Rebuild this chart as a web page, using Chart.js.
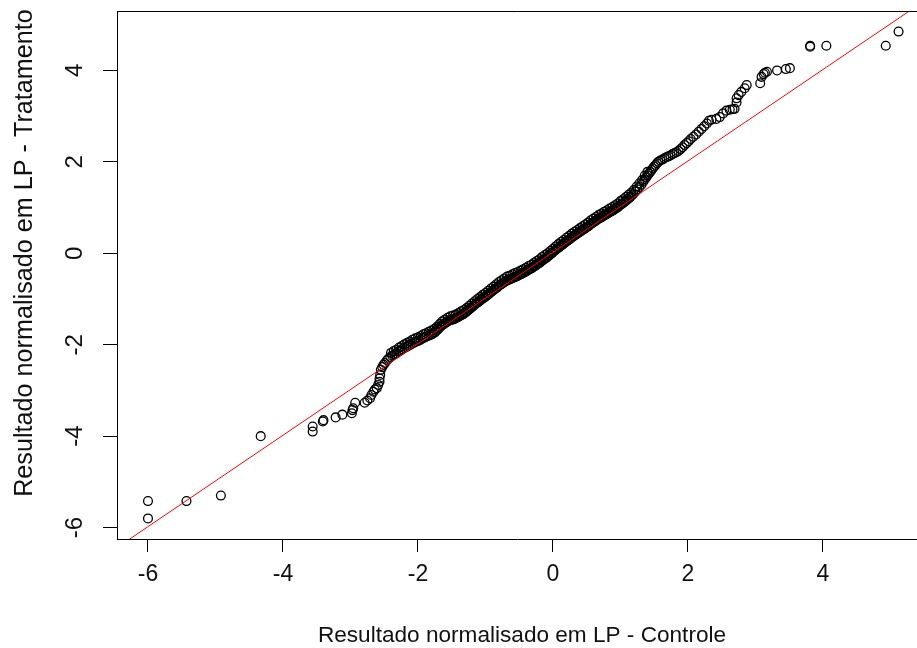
<!DOCTYPE html>
<html>
<head>
<meta charset="utf-8">
<script src="https://cdn.jsdelivr.net/npm/chart.js@4/dist/chart.umd.min.js"></script>
<style>
html,body{margin:0;padding:0;background:#fff;}
canvas{display:block;}
</style>
</head>
<body>
<canvas id="c" width="917" height="648" style="width:917px;height:648px"></canvas>
<script>
// Sample quantiles (QQ plot): x = Controle, y = Tratamento
const controle = [
-6.00,-6.00,-5.43,-4.92,-4.33,-3.56,-3.56,-3.41,-3.40,-3.22,-3.12,-2.98,-2.97,-2.96,-2.93,-2.79,-2.75,-2.71,-2.69,-2.66,-2.64,-2.61,-2.59,-2.57,-2.57,-2.56,
-2.55,-2.53,-2.51,-2.49,-2.46,-2.44,-2.41,-2.38,-2.35,-2.32,-2.29,-2.26,-2.23,-2.20,-2.17,-2.14,-2.11,-2.08,-2.05,-2.02,-1.99,-1.96,-1.93,-1.90,-1.87,-1.84,-1.81,
-1.79,-1.77,-1.75,-1.73,-1.71,-1.69,-1.67,-1.65,-1.63,-1.61,-1.59,-1.57,-1.55,-1.53,-1.51,-1.49,-1.47,-1.45,-1.43,-1.41,-1.39,-1.37,-1.35,-1.33,-1.31,-1.29,-1.27,-1.25,-1.23,-1.21,-1.19,-1.17,-1.15,-1.13,-1.11,-1.09,-1.07,-1.05,-1.03,-1.01,
-0.99,-0.97,-0.95,-0.93,-0.91,-0.89,-0.87,-0.85,-0.83,-0.81,-0.79,-0.77,-0.75,-0.73,-0.71,-0.69,-0.67,-0.65,-0.63,-0.61,-0.59,-0.57,-0.55,-0.53,-0.51,-0.49,-0.47,-0.45,-0.43,-0.41,-0.39,-0.37,-0.35,-0.33,-0.31,-0.29,-0.27,-0.25,-0.23,-0.21,-0.19,-0.17,-0.15,-0.13,-0.11,-0.09,-0.07,-0.05,-0.03,-0.01,
0.01,0.03,0.05,0.07,0.09,0.11,0.13,0.15,0.17,0.19,0.21,0.23,0.25,0.27,0.29,0.31,0.33,0.35,0.37,0.39,0.41,0.43,0.45,0.47,0.49,0.51,0.53,0.55,0.57,0.59,0.61,0.63,0.65,0.67,0.69,0.71,0.73,0.75,0.77,0.79,0.81,0.83,0.85,0.87,0.89,0.91,0.93,0.95,0.97,0.99,
1.01,1.03,1.05,1.07,1.09,1.11,1.13,1.15,1.17,1.19,
1.22,1.25,1.28,1.31,1.34,1.36,1.38,1.40,1.42,1.44,1.46,1.48,1.50,1.52,1.54,1.56,1.59,1.62,1.65,1.68,1.71,1.74,1.77,1.80,1.83,1.86,1.89,1.92,1.95,1.98,2.01,2.04,2.08,2.12,2.16,2.20,2.24,2.28,
2.31,2.35,2.42,2.47,2.52,2.57,2.62,2.66,2.69,2.72,2.72,2.75,2.79,2.84,2.87,3.07,3.09,3.12,3.14,3.17,3.32,3.45,3.51,3.81,3.81,4.05,4.93,5.12,
// upper edge of the dense central band
-2.40,-2.36,-2.32,-2.28,-2.24,-2.20,-2.16,-2.12,-2.08,-2.04,-2.00,-1.96,-1.92,-1.88,-1.84,-1.80,-1.76,-1.72,-1.68,-1.64,-1.60,-1.56,-1.52,-1.48,-1.44,-1.40,-1.36,-1.32,-1.28,-1.24,-1.20,-1.16,-1.12,-1.08,-1.04,-1.00,
-0.96,-0.92,-0.88,-0.84,-0.80,-0.76,-0.72,-0.68,-0.64,-0.60,-0.56,-0.52,-0.48,-0.44,-0.40,-0.36,-0.32,-0.28,-0.24,-0.20,-0.16,-0.12,-0.08,-0.04,
0.00,0.04,0.08,0.12,0.16,0.20,0.24,0.28,0.32,0.36,0.40,0.44,0.48,0.52,0.56,0.60,0.64,0.68,0.72,0.76,0.80,0.84,0.88,0.92,0.96,1.00,1.04,1.08,1.12,1.16,1.20,1.24,1.28,1.32,1.36,1.40
];
const tratamento = [
-5.80,-5.42,-5.42,-5.30,-4.00,-3.90,-3.79,-3.68,-3.65,-3.59,-3.53,-3.50,-3.43,-3.39,-3.27,-3.27,-3.22,-3.17,-3.10,-3.03,-2.98,-2.95,-2.88,-2.81,-2.74,-2.66,
-2.55,-2.49,-2.44,-2.40,-2.34,-2.31,-2.27,-2.24,-2.21,-2.19,-2.15,-2.13,-2.10,-2.07,-2.05,-2.02,-2.00,-1.97,-1.95,-1.93,-1.91,-1.89,-1.86,-1.84,-1.82,-1.80,-1.78,
-1.77,-1.75,-1.73,-1.70,-1.67,-1.64,-1.61,-1.58,-1.56,-1.54,-1.52,-1.50,-1.48,-1.47,-1.46,-1.45,-1.44,-1.43,-1.41,-1.40,-1.38,-1.36,-1.35,-1.33,-1.31,-1.29,-1.26,-1.24,-1.21,-1.19,-1.16,-1.14,-1.11,-1.09,-1.07,-1.05,-1.02,-1.00,-0.98,-0.96,
-0.94,-0.91,-0.89,-0.86,-0.84,-0.82,-0.79,-0.77,-0.75,-0.72,-0.70,-0.68,-0.66,-0.64,-0.62,-0.60,-0.59,-0.58,-0.56,-0.55,-0.54,-0.52,-0.51,-0.50,-0.48,-0.47,-0.45,-0.44,-0.42,-0.41,-0.39,-0.37,-0.35,-0.34,-0.32,-0.30,-0.28,-0.26,-0.24,-0.22,-0.20,-0.17,-0.15,-0.13,-0.11,-0.09,-0.06,-0.04,-0.01,0.01,
0.04,0.06,0.09,0.11,0.13,0.16,0.18,0.20,0.23,0.25,0.27,0.29,0.31,0.34,0.36,0.38,0.40,0.42,0.44,0.46,0.48,0.50,0.52,0.54,0.56,0.58,0.60,0.63,0.65,0.67,0.69,0.71,0.73,0.75,0.77,0.78,0.80,0.82,0.84,0.85,0.87,0.89,0.91,0.92,0.94,0.96,0.98,1.00,1.02,1.05,
1.07,1.09,1.11,1.14,1.16,1.19,1.21,1.24,1.27,1.30,
1.35,1.40,1.45,1.50,1.57,1.62,1.66,1.70,1.74,1.78,1.82,1.86,1.90,1.93,1.97,2.00,2.03,2.05,2.08,2.10,2.12,2.14,2.17,2.19,2.21,2.24,2.28,2.32,2.37,2.41,2.45,2.50,2.55,2.60,2.66,2.72,2.78,2.84,
2.90,2.92,2.94,2.98,3.06,3.12,3.14,3.15,3.16,3.30,3.39,3.46,3.53,3.61,3.68,3.72,3.86,3.92,3.95,3.97,4.00,4.03,4.05,4.52,4.54,4.54,4.54,4.85,
// upper edge of the dense central band
-2.18,-2.14,-2.11,-2.06,-2.03,-1.99,-1.96,-1.93,-1.89,-1.86,-1.84,-1.81,-1.77,-1.75,-1.72,-1.69,-1.66,-1.61,-1.55,-1.49,-1.45,-1.41,-1.38,-1.36,-1.34,-1.31,-1.27,-1.24,-1.20,-1.15,-1.10,-1.05,-1.00,-0.96,-0.91,-0.87,
-0.82,-0.77,-0.73,-0.68,-0.63,-0.59,-0.55,-0.51,-0.49,-0.46,-0.43,-0.41,-0.38,-0.35,-0.32,-0.28,-0.25,-0.21,-0.17,-0.13,-0.08,-0.04,0.00,0.05,
0.10,0.15,0.20,0.25,0.29,0.34,0.38,0.43,0.47,0.51,0.55,0.59,0.63,0.67,0.72,0.76,0.80,0.84,0.87,0.91,0.94,0.98,1.01,1.05,1.09,1.14,1.18,1.23,1.28,1.33,1.39,1.46,1.53,1.60,1.70,1.78
];
// Reference line (qqline-like): y = intercept + slope * x
const refIntercept = 0.02;
const refSlope = 1.0;
const xTicks = [-6, -4, -2, 0, 2, 4];
const yTicks = [-6, -4, -2, 0, 2, 4];
const xTitle = 'Resultado normalisado em LP - Controle';
const yTitle = 'Resultado normalisado em LP - Tratamento';

const X_MIN = -6.459, X_MAX = 5.393, Y_MIN = -6.25, Y_MAX = 5.30;
const FONT = "'Liberation Sans', Arial, sans-serif";

const points = controle.map((v, i) => ({x: v, y: tratamento[i]}));
const refLine = [X_MIN - 1, X_MAX + 1].map(x => ({x: x, y: refIntercept + refSlope * x}));

const framePlugin = {
  id: 'frame',
  afterDraw(chart) {
    const ctx = chart.ctx, a = chart.chartArea, ys = chart.scales.y;
    ctx.save();
    ctx.strokeStyle = '#000';
    ctx.lineWidth = 1;
    ctx.beginPath();
    ctx.moveTo(a.left + 0.5, a.bottom);
    ctx.lineTo(a.left + 0.5, a.top + 0.5);
    ctx.lineTo(a.right + 5, a.top + 0.5);
    ctx.stroke();
    ctx.fillStyle = '#111';
    ctx.textAlign = 'center';
    ctx.textBaseline = 'middle';
    ctx.font = '24px ' + FONT;
    yTicks.forEach(t => {
      const py = ys.getPixelForValue(t);
      ctx.save();
      ctx.translate(75, py);
      ctx.rotate(-Math.PI / 2);
      ctx.fillText(String(t), 0, 0);
      ctx.restore();
    });
    // axis titles
    ctx.font = '25.2px ' + FONT;
    ctx.save();
    ctx.translate(25, 253);
    ctx.rotate(-Math.PI / 2);
    ctx.fillText(yTitle, 0, 0);
    ctx.restore();
    ctx.font = '22.6px ' + FONT;
    ctx.fillText(xTitle, 522, 636);
    ctx.restore();
  }
};

new Chart(document.getElementById('c'), {
  data: {
    datasets: [
      {
        type: 'line',
        data: refLine,
        borderColor: '#ff0000',
        borderWidth: 1,
        pointRadius: 0,
        fill: false,
        order: 0
      },
      {
        type: 'scatter',
        data: points,
        pointStyle: 'circle',
        pointRadius: 4.4,
        borderWidth: 1.3,
        borderColor: '#000',
        backgroundColor: 'rgba(0,0,0,0)',
        order: 1
      }
    ]
  },
  options: {
    responsive: false,
    devicePixelRatio: 1,
    animation: false,
    layout: {autoPadding: false, padding: {left: 0, top: 11, right: 0, bottom: 0}},
    plugins: {legend: {display: false}, tooltip: {enabled: false}},
    scales: {
      x: {
        type: 'linear',
        min: X_MIN, max: X_MAX,
        afterBuildTicks: s => { s.ticks = xTicks.map(v => ({value: v})); },
        afterFit: s => { s.height = 109; s.paddingLeft = 0; s.paddingRight = 0; },
        grid: {drawOnChartArea: false, drawTicks: true, tickLength: 13, tickColor: '#000', tickWidth: 1},
        border: {display: true, color: '#000', width: 1},
        ticks: {color: '#111', font: {family: FONT, size: 23}, padding: 9, maxRotation: 0, autoSkip: false, callback: v => String(v)},
        title: {display: false}
      },
      y: {
        type: 'linear',
        min: Y_MIN, max: Y_MAX,
        afterBuildTicks: s => { s.ticks = yTicks.map(v => ({value: v})); },
        afterFit: s => { s.width = 117; s.paddingTop = 0; s.paddingBottom = 0; },
        grid: {drawOnChartArea: false, drawTicks: true, tickLength: 14, tickColor: '#000', tickWidth: 1},
        border: {display: true, color: '#000', width: 1},
        ticks: {color: 'rgba(0,0,0,0)', font: {family: FONT, size: 2}, callback: v => String(v)},
        title: {display: false}
      }
    }
  },
  plugins: [framePlugin]
});
</script>
</body>
</html>
